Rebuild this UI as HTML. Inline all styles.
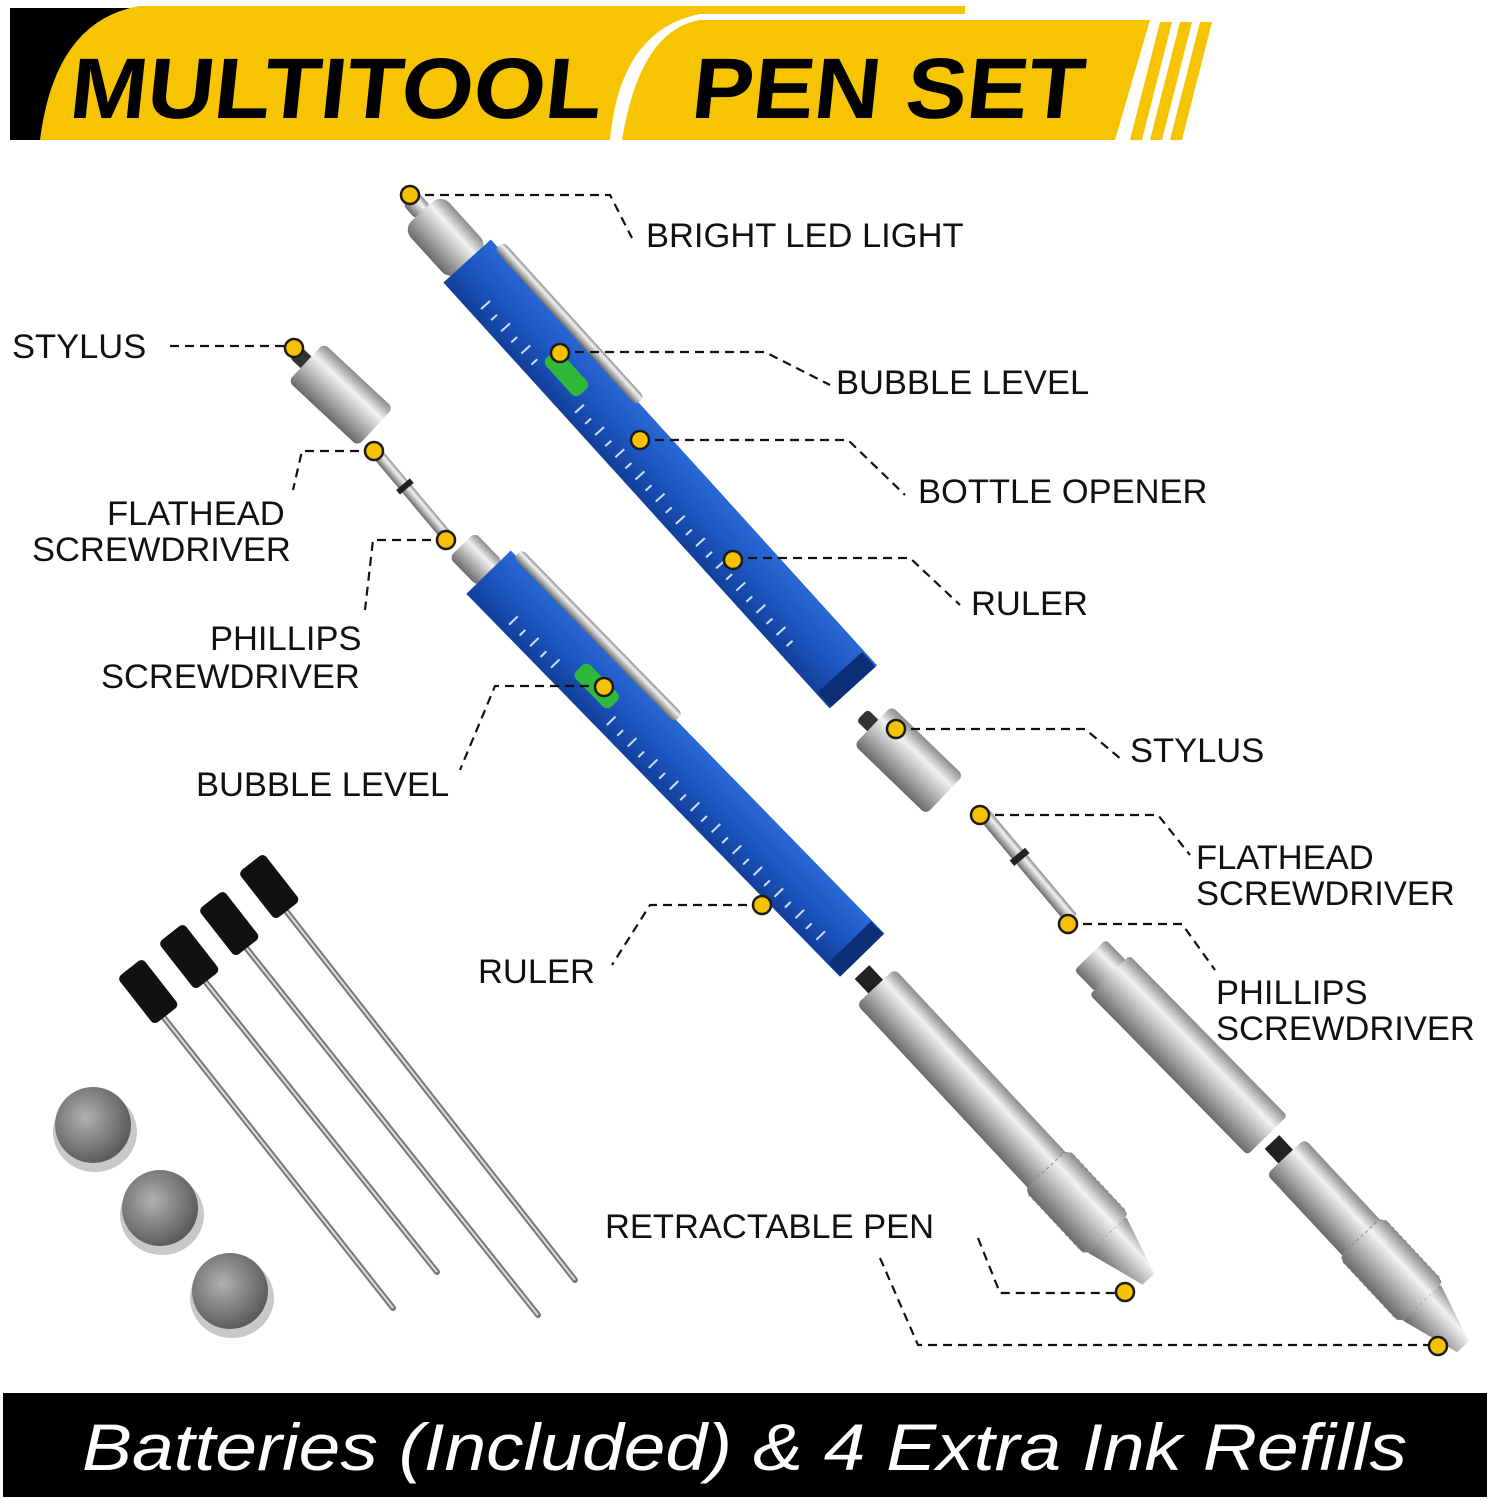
<!DOCTYPE html>
<html><head><meta charset="utf-8"><style>
html,body{margin:0;padding:0;background:#fff;}
svg{display:block;}
.l{font-family:"Liberation Sans",sans-serif;font-size:34.5px;fill:#111;}
.d{fill:none;stroke:#111;stroke-width:2.2;stroke-dasharray:9 6;}
.dot{fill:#f6c200;stroke:#1a1a1a;stroke-width:2.5;}
</style></head><body>
<svg width="1490" height="1500" viewBox="0 0 1490 1500" xmlns="http://www.w3.org/2000/svg">
<defs>
<linearGradient id="blue" x1="0" y1="0" x2="0" y2="1"><stop offset="0" stop-color="#2a6ad6"/><stop offset="0.5" stop-color="#1c56c2"/><stop offset="1" stop-color="#123f99"/></linearGradient>
<linearGradient id="sil" x1="0" y1="0" x2="0" y2="1"><stop offset="0" stop-color="#8a8a8a"/><stop offset="0.3" stop-color="#f2f2f2"/><stop offset="0.6" stop-color="#b8b8b8"/><stop offset="1" stop-color="#6a6a6a"/></linearGradient>
<radialGradient id="bat" cx="0.4" cy="0.4" r="0.7"><stop offset="0" stop-color="#b0b0b0"/><stop offset="1" stop-color="#505050"/></radialGradient>
</defs>
<!-- header -->
<path d="M10 8 L140 8 L100 140 L10 140 Z" fill="#000"/>
<path d="M40 140 Q55 20 140 6 L965 6 L965 14 L700 14 Q620 30 610 140 Z" fill="#f6c400"/>
<path d="M622 140 Q640 30 700 20 L1150 20 L1115 140 Z" fill="#f6c400"/>
<path d="M1160 22 L1172 22 L1142 140 L1130 140Z M1180 22 L1192 22 L1162 140 L1150 140Z M1200 22 L1212 22 L1182 140 L1170 140Z" fill="#f6c400"/>
<g transform="skewX(-6)">
<text x="80" y="118" font-family="Liberation Sans,sans-serif" font-weight="bold" font-size="86" fill="#000" textLength="532" lengthAdjust="spacingAndGlyphs">MULTITOOL</text>
<text x="702" y="118" font-family="Liberation Sans,sans-serif" font-weight="bold" font-size="86" fill="#000" textLength="392" lengthAdjust="spacingAndGlyphs">PEN SET</text>
</g>

<!-- pen 1 -->
<g transform="translate(410,198) rotate(47.8)">
<rect x="0" y="-10" width="20" height="20" rx="5" fill="url(#sil)"/>
<rect x="18" y="-26" width="70" height="52" rx="12" fill="url(#sil)"/>
<rect x="85" y="-32" width="575" height="64" fill="url(#blue)"/>
<rect x="95" y="-40" width="210" height="12" rx="5" fill="url(#sil)"/>
<rect x="210" y="-8" width="50" height="20" rx="6" fill="#2fb83a"/>
<g stroke="#cfe0ff" stroke-width="2">
<path d="M130 10v12M145 14v8M160 10v12M175 14v8M190 10v12M205 14v8M270 10v12M285 14v8M300 10v12M315 14v8M330 10v12M345 14v8M360 10v12M375 14v8M390 10v12M405 14v8M420 10v12M435 14v8M450 10v12M465 14v8M480 10v12M495 14v8M510 10v12M525 14v8M540 10v12M555 14v8M570 10v12M585 14v8"/>
</g>
<rect x="640" y="-30" width="20" height="60" fill="#0c2f78"/>
</g>
<!-- pen 2 -->
<g transform="translate(462,545) rotate(45.7)">
<rect x="0" y="-18" width="40" height="36" rx="6" fill="url(#sil)"/>
<rect x="38" y="-31" width="535" height="62" fill="url(#blue)"/>
<rect x="45" y="-40" width="230" height="12" rx="5" fill="url(#sil)"/>
<rect x="170" y="-8" width="50" height="20" rx="6" fill="#2fb83a"/>
<g stroke="#cfe0ff" stroke-width="2">
<path d="M90 10v12M105 14v8M120 10v12M135 14v8M150 10v12M230 10v12M245 14v8M260 10v12M275 14v8M290 10v12M305 14v8M320 10v12M335 14v8M350 10v12M365 14v8M380 10v12M395 14v8M410 10v12M425 14v8M440 10v12M455 14v8M470 10v12M485 14v8M500 10v12M515 14v8M530 10v12"/>
</g>
<rect x="555" y="-30" width="18" height="60" fill="#0c2f78"/>
</g>
<!-- stylus left -->
<g transform="translate(295,352) rotate(43)">
<rect x="0" y="-8" width="18" height="16" rx="4" fill="#333"/>
<rect x="15" y="-26" width="95" height="52" rx="6" fill="url(#sil)"/>
</g>
<!-- flathead left -->
<g transform="translate(376,452) rotate(50)">
<rect x="0" y="-6" width="110" height="12" rx="3" fill="url(#sil)"/>
<rect x="42" y="-9" width="6" height="18" fill="#222"/>
</g>
<!-- stylus right -->
<g transform="translate(862,715) rotate(44)">
<rect x="0" y="-8" width="18" height="16" rx="4" fill="#333"/>
<rect x="15" y="-27" width="100" height="54" rx="6" fill="url(#sil)"/>
</g>
<!-- flathead right -->
<g transform="translate(982,812) rotate(50)">
<rect x="0" y="-7" width="140" height="14" rx="3" fill="url(#sil)"/>
<rect x="55" y="-10" width="7" height="20" fill="#222"/>
</g>
<!-- tube right -->
<g transform="translate(1090,955) rotate(45.5)">
<rect x="0" y="-22" width="30" height="44" rx="4" fill="url(#sil)"/>
<rect x="28" y="-28" width="225" height="56" rx="4" fill="url(#sil)"/>
</g>
<!-- inner pen 1 -->
<g transform="translate(862,972) rotate(47)">
<rect x="0" y="-10" width="22" height="20" fill="#222"/>
<rect x="20" y="-26" width="340" height="52" rx="6" fill="url(#sil)"/>
<rect x="270" y="-30" width="90" height="60" rx="8" fill="url(#sil)" stroke="#888" stroke-dasharray="3 3"/>
<path d="M360 -26 L420 -8 L420 8 L360 26Z" fill="url(#sil)"/>
</g>
<!-- inner pen 2 -->
<g transform="translate(1272,1142) rotate(47)">
<rect x="0" y="-10" width="22" height="20" fill="#222"/>
<rect x="20" y="-26" width="200" height="52" rx="6" fill="url(#sil)"/>
<rect x="130" y="-30" width="90" height="60" rx="8" fill="url(#sil)" stroke="#888" stroke-dasharray="3 3"/>
<path d="M220 -26 L280 -8 L280 8 L220 26Z" fill="url(#sil)"/>
</g>
<!-- refills -->
<g stroke="#777" stroke-width="6" stroke-linecap="round">
<line x1="150" y1="1000" x2="393" y2="1308"/>
<line x1="192" y1="965" x2="437" y2="1272"/>
<line x1="232" y1="930" x2="538" y2="1315"/>
<line x1="272" y1="893" x2="575" y2="1280"/>
</g>
<g stroke="#ddd" stroke-width="2"><line x1="150" y1="1000" x2="393" y2="1308"/><line x1="192" y1="965" x2="437" y2="1272"/><line x1="232" y1="930" x2="538" y2="1315"/><line x1="272" y1="893" x2="575" y2="1280"/></g>
<g fill="#111">
<rect x="-16" y="-28" width="32" height="60" rx="5" transform="translate(147,990) rotate(-38)"/>
<rect x="-16" y="-28" width="32" height="60" rx="5" transform="translate(188,955) rotate(-38)"/>
<rect x="-16" y="-28" width="32" height="60" rx="5" transform="translate(228,922) rotate(-38)"/>
<rect x="-16" y="-28" width="32" height="60" rx="5" transform="translate(268,885) rotate(-38)"/>
</g>
<!-- batteries -->
<g>
<ellipse cx="95" cy="1132" rx="42" ry="40" fill="#c8c8c8"/><circle cx="93" cy="1125" r="38" fill="url(#bat)"/>
<ellipse cx="162" cy="1215" rx="42" ry="40" fill="#c8c8c8"/><circle cx="160" cy="1208" r="38" fill="url(#bat)"/>
<ellipse cx="232" cy="1298" rx="42" ry="40" fill="#c8c8c8"/><circle cx="230" cy="1291" r="38" fill="url(#bat)"/>
</g>

<!-- leaders -->
<polyline class="d" points="410,195 610,195 632,238"/>
<polyline class="d" points="170,346 294,346"/>
<polyline class="d" points="560,352 765,352 830,385"/>
<polyline class="d" points="640,440 848,440 905,495"/>
<polyline class="d" points="733,558 910,558 960,605"/>
<polyline class="d" points="374,451 302,451 293,490"/>
<polyline class="d" points="446,540 373,540 365,610"/>
<polyline class="d" points="604,686 495,686 460,770"/>
<polyline class="d" points="762,905 650,905 612,965"/>
<polyline class="d" points="896,729 1085,729 1122,760"/>
<polyline class="d" points="980,815 1158,815 1190,855"/>
<polyline class="d" points="1068,924 1182,924 1215,970"/>
<polyline class="d" points="978,1238 1000,1293 1125,1293"/>
<polyline class="d" points="880,1258 918,1345 1438,1345"/>
<g class="dot">
<circle cx="410" cy="195" r="9"/><circle cx="294" cy="348" r="9"/><circle cx="560" cy="353" r="9"/>
<circle cx="640" cy="440" r="9"/><circle cx="733" cy="560" r="9"/><circle cx="374" cy="451" r="9"/>
<circle cx="446" cy="540" r="9"/><circle cx="604" cy="687" r="9"/><circle cx="762" cy="905" r="9"/>
<circle cx="896" cy="729" r="9"/><circle cx="980" cy="815" r="9"/><circle cx="1068" cy="924" r="9"/>
<circle cx="1125" cy="1292" r="9"/><circle cx="1438" cy="1346" r="9"/>
</g>
<!-- labels -->
<text class="l" x="646" y="247">BRIGHT LED LIGHT</text>
<text class="l" x="12" y="358">STYLUS</text>
<text class="l" x="836" y="394">BUBBLE LEVEL</text>
<text class="l" x="918" y="503">BOTTLE OPENER</text>
<text class="l" x="107" y="525">FLATHEAD</text>
<text class="l" x="32" y="561">SCREWDRIVER</text>
<text class="l" x="971" y="615">RULER</text>
<text class="l" x="210" y="650">PHILLIPS</text>
<text class="l" x="101" y="688">SCREWDRIVER</text>
<text class="l" x="1130" y="762">STYLUS</text>
<text class="l" x="196" y="796">BUBBLE LEVEL</text>
<text class="l" x="1196" y="869">FLATHEAD</text>
<text class="l" x="1196" y="905">SCREWDRIVER</text>
<text class="l" x="478" y="983">RULER</text>
<text class="l" x="1216" y="1004">PHILLIPS</text>
<text class="l" x="1216" y="1040">SCREWDRIVER</text>
<text class="l" x="605" y="1238">RETRACTABLE PEN</text>
<!-- bottom bar -->
<rect x="3" y="1393" width="1484" height="104" fill="#000"/>
<text x="82" y="1470" font-family="Liberation Sans,sans-serif" font-style="italic" font-size="66" fill="#fff" textLength="1325" lengthAdjust="spacingAndGlyphs">Batteries (Included) &amp; 4 Extra Ink Refills</text>
</svg>
</body></html>
